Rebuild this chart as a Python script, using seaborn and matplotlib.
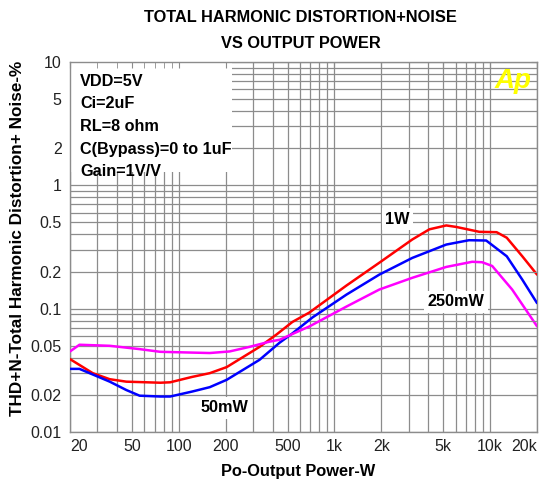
import numpy as np
import pandas as pd
import matplotlib
matplotlib.use('Agg')
import matplotlib.pyplot as plt
from matplotlib.ticker import NullFormatter
from matplotlib.patches import Rectangle
import seaborn as sns

sns.set_style('whitegrid')
plt.rcParams['font.family'] = ['Liberation Sans', 'DejaVu Sans']
plt.rcParams['text.color'] = 'black'

# THD+N curves (frequency axis, %)
freq_1w = [20, 28, 36, 46, 76, 88, 122, 158, 203, 330, 426, 536, 689,
           1193, 1942, 3161, 4070, 5223, 6050, 8510, 11000, 12780, 16080, 20000]
thd_1w = [0.039, 0.030, 0.0268, 0.0256, 0.0251, 0.0253, 0.028, 0.030, 0.0336, 0.049,
          0.062, 0.078, 0.093, 0.154, 0.236, 0.364, 0.44, 0.473, 0.46, 0.42,
          0.417, 0.376, 0.266, 0.189]

freq_50mw = [20, 23, 36, 46, 56, 76, 88, 122, 158, 203, 330, 444, 536, 723,
             1193, 1942, 3161, 5223, 7310, 9430, 12780, 16080, 20000]
thd_50mw = [0.0325, 0.0325, 0.0256, 0.0219, 0.0197, 0.0194, 0.0194, 0.0213, 0.0231,
            0.0265, 0.0385, 0.053, 0.063, 0.085, 0.13, 0.189, 0.258, 0.331, 0.359,
            0.357, 0.266, 0.172, 0.111]

freq_250mw = [20, 23, 36, 56, 76, 158, 212, 284, 382, 444, 693,
              1193, 1942, 3161, 5223, 7663, 8880, 10300, 13840, 20000]
thd_250mw = [0.045, 0.051, 0.050, 0.047, 0.0447, 0.0437, 0.045, 0.049, 0.054, 0.056,
             0.072, 0.104, 0.143, 0.178, 0.218, 0.24, 0.238, 0.222, 0.143, 0.072]

x_ticks = [20, 50, 100, 200, 500, 1000, 2000, 5000, 10000, 20000]
x_labels = ['20', '50', '100', '200', '500', '1k', '2k', '5k', '10k', '20k']
y_ticks = [0.01, 0.02, 0.05, 0.1, 0.2, 0.5, 1, 2, 5, 10]
y_labels = ['0.01', '0.02', '0.05', '0.1', '0.2', '0.5', '1', '2', '5', '10']

notes = ['VDD=5V', 'Ci=2uF', 'RL=8 ohm', 'C(Bypass)=0 to 1uF', 'Gain=1V/V']

fig = plt.figure(figsize=(5.44, 4.84), dpi=100)
pos = [0.1287, 0.1074, 0.8585, 0.7645]
ax = fig.add_axes(pos)

grid_c = '#8c8c8c'
sns.lineplot(x=freq_1w, y=thd_1w, color='#ff0000', lw=1.8, ax=ax, zorder=3)
sns.lineplot(x=freq_50mw, y=thd_50mw, color='#0000ff', lw=1.8, ax=ax, zorder=3)
sns.lineplot(x=freq_250mw, y=thd_250mw, color='#ff00ff', lw=1.8, ax=ax, zorder=3)

ax.set_xscale('log')
ax.set_yscale('log')
ax.set_xlim(20, 20000)
ax.set_ylim(0.01, 10)

minor_x = [m * 10 ** d for d in range(1, 5) for m in range(2, 10) if 20 <= m * 10 ** d <= 20000]
minor_y = [m * 10.0 ** d for d in range(-2, 1) for m in range(2, 10)]
ax.set_xticks(x_ticks)
ax.set_xticklabels(x_labels)
ax.set_xticks(minor_x, minor=True)
ax.set_yticks(y_ticks)
ax.set_yticklabels(y_labels)
ax.set_yticks(minor_y, minor=True)
ax.xaxis.set_minor_formatter(NullFormatter())
ax.yaxis.set_minor_formatter(NullFormatter())
ax.grid(True, which='both', color=grid_c, lw=0.9)
ax.tick_params(which='both', length=0, labelsize=11.5, colors='#222222', pad=6)
ax.tick_params(axis='x', pad=5)
xl = ax.get_xticklabels()
xl[0].set_ha('left')
xl[-1].set_ha('right')
for s in ax.spines.values():
    s.set_color(grid_c)
    s.set_linewidth(1)

# white box behind the test conditions
ax.add_patch(Rectangle((20, 1.28), 200, 8.72, facecolor='white', edgecolor='none', zorder=1))
for i, t in enumerate(notes):
    ax.text(0.022, 0.968 - i * 0.061, t, transform=ax.transAxes, fontsize=11.7,
            fontweight='bold', va='top', ha='left', zorder=4)

# small tick stubs on top of the box
ax_t = fig.add_axes(pos, sharex=ax, sharey=ax)
ax_t.patch.set_visible(False)
ax_t.grid(False)
ax_t.tick_params(which='both', direction='in', length=4, color=grid_c,
                 top=True, right=True, labelleft=False, labelbottom=False)
for s in ax_t.spines.values():
    s.set_visible(False)

box = dict(facecolor='white', edgecolor='none', pad=2.5)
ax.text(2535, 0.53, '1W', fontsize=11.7, fontweight='bold', ha='center', va='center', bbox=box, zorder=4)
ax.text(6050, 0.114, '250mW', fontsize=11.7, fontweight='bold', ha='center', va='center', bbox=box, zorder=4)
ax.text(197, 0.0157, '50mW', fontsize=11.7, fontweight='bold', ha='center', va='center', bbox=box, zorder=4)

ax.text(0.948, 0.95, 'Ap', transform=ax.transAxes, color='#ffff00', fontsize=20,
        fontweight='bold', fontstyle='italic', ha='center', va='center', zorder=4)

fig.text(0.553, 0.963, 'TOTAL HARMONIC DISTORTION+NOISE', fontsize=11.8, fontweight='bold',
         ha='center', va='center')
fig.text(0.553, 0.911, 'VS OUTPUT POWER', fontsize=11.8, fontweight='bold', ha='center', va='center')
fig.text(0.548, 0.025, 'Po-Output Power-W', fontsize=11.8, fontweight='bold', ha='center', va='center')
fig.text(0.033, 0.508, 'THD+N-Total Harmonic Distortion+ Noise-%', fontsize=12.3,
         fontweight='bold', ha='center', va='center', rotation=90)

fig.savefig('out.png', dpi=100)
